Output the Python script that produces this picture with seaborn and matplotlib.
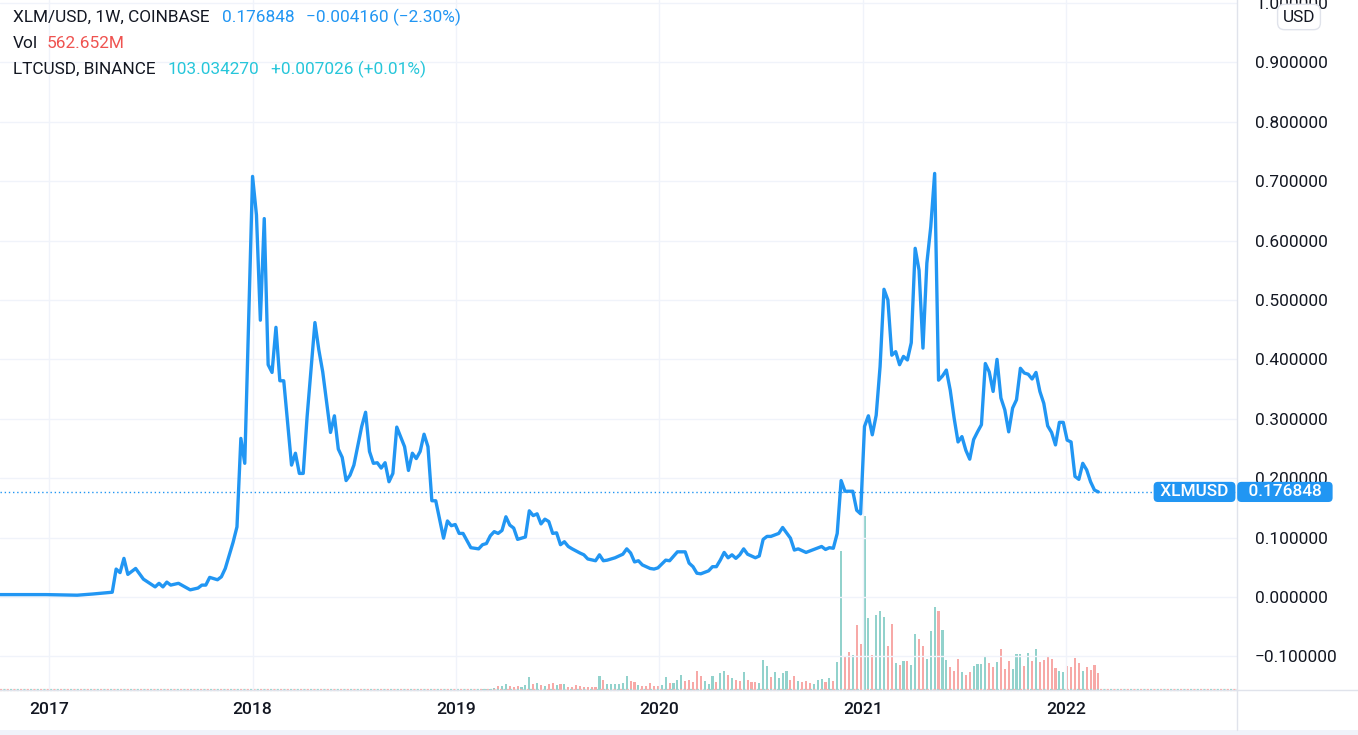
import numpy as np
import pandas as pd
import matplotlib
matplotlib.use("Agg")
import matplotlib.pyplot as plt
import matplotlib.transforms as mtransforms
from matplotlib.lines import Line2D
from matplotlib.patches import Rectangle
import seaborn as sns

# ---------------- data (weekly bars, week index counted from start_date) ----------------
start_date = "2016-10-03"

price_weeks = [
    0, 12, 20, 24, 29, 30, 31, 32, 33, 35,
    37, 40, 41, 42, 43, 44, 46, 49, 51, 52,
    53, 54, 56, 57, 58, 59, 60, 61, 62, 63,
    65, 66, 67, 68, 69, 70, 71, 72, 73, 75,
    76, 77, 78, 79, 81, 82, 83, 85, 86, 87,
    88, 89, 90, 91, 93, 94, 95, 96, 97, 98,
    99, 100, 101, 102, 104, 105, 106, 107, 108, 109,
    110, 111, 112, 114, 115, 116, 117, 118, 119, 121,
    123, 124, 125, 126, 127, 128, 129, 130, 131, 132,
    133, 135, 136, 137, 138, 139, 140, 141, 142, 143,
    144, 145, 146, 147, 149, 150, 151, 153, 154, 155,
    156, 158, 160, 161, 162, 163, 164, 165, 167, 168,
    169, 171, 172, 174, 176, 177, 178, 179, 180, 182,
    183, 184, 185, 186, 187, 188, 189, 190, 191, 192,
    194, 195, 196, 197, 198, 200, 201, 202, 203, 204,
    205, 207, 209, 211, 212, 213, 214, 215, 216, 217,
    219, 220, 221, 222, 223, 224, 225, 226, 227, 228,
    229, 230, 231, 232, 233, 234, 235, 236, 237, 238,
    239, 240, 241, 242, 243, 244, 245, 246, 247, 248,
    249, 250, 251, 252, 253, 254, 255, 256, 257, 258,
    259, 260, 261, 262, 263, 264, 265, 266, 267, 268,
    269, 270, 271, 272, 273, 274, 275, 276, 277, 278,
    279, 280, 281, 282,
]
price_values = [
    0.004, 0.004, 0.003, 0.005, 0.008, 0.047, 0.041, 0.065, 0.038, 0.048,
    0.030, 0.017, 0.023, 0.017, 0.025, 0.020, 0.023, 0.012, 0.015, 0.020,
    0.020, 0.033, 0.029, 0.034, 0.048, 0.070, 0.092, 0.118, 0.267, 0.225,
    0.708, 0.643, 0.466, 0.637, 0.391, 0.378, 0.454, 0.364, 0.364, 0.222,
    0.242, 0.208, 0.208, 0.304, 0.462, 0.416, 0.379, 0.277, 0.305, 0.249,
    0.235, 0.196, 0.205, 0.222, 0.287, 0.311, 0.245, 0.225, 0.226, 0.217,
    0.226, 0.194, 0.208, 0.286, 0.253, 0.213, 0.242, 0.233, 0.245, 0.274,
    0.253, 0.162, 0.162, 0.099, 0.128, 0.120, 0.122, 0.107, 0.107, 0.083,
    0.081, 0.088, 0.090, 0.103, 0.110, 0.107, 0.112, 0.135, 0.121, 0.116,
    0.097, 0.101, 0.145, 0.137, 0.140, 0.123, 0.131, 0.127, 0.107, 0.108,
    0.088, 0.093, 0.085, 0.081, 0.074, 0.071, 0.064, 0.061, 0.071, 0.061,
    0.062, 0.066, 0.072, 0.081, 0.074, 0.059, 0.061, 0.054, 0.048, 0.047,
    0.049, 0.062, 0.061, 0.076, 0.076, 0.057, 0.051, 0.040, 0.039, 0.044,
    0.051, 0.051, 0.062, 0.075, 0.066, 0.071, 0.065, 0.071, 0.081, 0.072,
    0.066, 0.069, 0.097, 0.102, 0.102, 0.107, 0.117, 0.108, 0.099, 0.079,
    0.081, 0.075, 0.080, 0.085, 0.080, 0.083, 0.082, 0.107, 0.196, 0.178,
    0.178, 0.146, 0.140, 0.287, 0.305, 0.273, 0.306, 0.388, 0.518, 0.500,
    0.407, 0.413, 0.391, 0.405, 0.399, 0.428, 0.587, 0.550, 0.419, 0.562,
    0.623, 0.713, 0.365, 0.372, 0.382, 0.348, 0.301, 0.261, 0.270, 0.247,
    0.232, 0.265, 0.278, 0.290, 0.393, 0.379, 0.346, 0.400, 0.335, 0.315,
    0.278, 0.318, 0.332, 0.385, 0.377, 0.375, 0.367, 0.378, 0.346, 0.326,
    0.288, 0.277, 0.256, 0.294, 0.294, 0.264, 0.261, 0.203, 0.198, 0.225,
    0.214, 0.194, 0.180, 0.176848,
]

# volume in millions, one bar per week from vol_first_week to the last week
vol_first_week = 124
vol_millions = [
    23, 23, 23,
    56, 132, 132, 199, 132, 109, 132, 109, 166, 430,
    199, 232, 166, 132, 209, 232, 175, 209, 209, 109,
    109, 166, 132, 109, 109, 109, 109, 463, 331, 199,
    199, 199, 199, 242, 463, 298, 265, 166, 132, 132,
    242, 132, 132, 166, 430, 242, 222, 331, 497, 298,
    331, 275, 629, 463, 298, 199, 463, 265, 553, 629,
    497, 397, 331, 298, 596, 331, 265, 265, 242, 993,
    794, 430, 596, 397, 563, 629, 331, 473, 298, 265,
    298, 242, 199, 331, 364, 265, 397, 298, 927, 4601,
    1125, 1248, 1159, 2152, 1523, 5759, 2383, 1159, 2483, 2615,
    2416, 1456, 2185, 894, 828, 960, 960, 828, 1854, 1688,
    1456, 1026, 1953, 2747, 2615, 1986, 993, 761, 629, 1026,
    596, 497, 596, 794, 861, 861, 1092, 894, 761, 927,
    1357, 695, 960, 695, 1192, 1192, 794, 1225, 960, 1357,
    927, 993, 1125, 1026, 728, 629, 596, 794, 761, 1059,
    894, 629, 761, 662, 828, 563,
]
# t = up week (teal), p = down week (red)
vol_direction = ("ttt"
                 "tpttpppttt" "ptptpptptp" "ppppppptpt" "tttttpptpp"
                 "pppttptttp" "pppptttptt" "ptpptppptt" "tpttttpptp"
                 "pptttptptt" "pptppttptt" "tpptptpttp" "ptttpttppp"
                 "tppttttppt" "ppptttptpt" "pppppttppp" "ptpppp")

year_ticks = [2017, 2018, 2019, 2020, 2021, 2022]
price_ticks = [-0.1, 0.0, 0.1, 0.2, 0.3, 0.4, 0.5, 0.6, 0.7, 0.8, 0.9, 1.0]

legend_rows = [
    [("XLM/USD, 1W, COINBASE", "#131722"), ("0.176848", "#2196F3"),
     ("\u22120.004160 (\u22122.30%)", "#2196F3")],
    [("Vol", "#131722"), ("562.652M", "#EF5350")],
    [("LTCUSD, BINANCE", "#131722"), ("103.034270", "#26C6DA"),
     ("+0.007026 (+0.01%)", "#26C6DA")],
]

# ---------------- style ----------------
sns.set_theme(style="white")
plt.rcParams['font.family'] = ['Roboto', 'DejaVu Sans']
plt.rcParams['axes.unicode_minus'] = True

BLUE = "#2196F3"
TEXT = "#131722"
GRID = "#f0f3fa"
BORDER = "#e0e3eb"
UP = "#92d2cc"
DOWN = "#f7a9a7"
FS = 12.4

W, H = 1358, 735
fig = plt.figure(figsize=(W / 100, H / 100), dpi=100)
fig.patch.set_facecolor("white")
rect = [0, 45 / H, 1237 / W, 690 / H]
ax_vol = fig.add_axes(rect)
ax = fig.add_axes(rect, sharex=ax_vol)
ax.patch.set_visible(False)

t0 = pd.Timestamp(start_date)
df = pd.DataFrame({
    "date": t0 + pd.to_timedelta(np.array(price_weeks) * 7, unit="D"),
    "price": price_values,
})
vol_weeks = vol_first_week + np.arange(len(vol_millions))
vdf = pd.DataFrame({
    "date": t0 + pd.to_timedelta(vol_weeks * 7, unit="D"),
    "vol": vol_millions,
    "dir": list(vol_direction),
})

# volume
ax_vol.bar(vdf["date"], vdf["vol"], width=3.8,
           color=[UP if d == "t" else DOWN for d in vdf["dir"]], linewidth=0)
ax_vol.axhline(0, color=DOWN, lw=1.6, ls=(0, (1, 2)), clip_on=False)
ax_vol.axhline(0, color=UP, lw=1.6, ls=(1.5, (1, 2)), clip_on=False)
ax_vol.set_ylim(0, 22840)
ax_vol.tick_params(left=False, bottom=False, labelleft=False, labelbottom=False)
for s in ax_vol.spines.values():
    s.set_visible(False)
ax_vol.grid(False)

# price line
sns.lineplot(data=df, x="date", y="price", ax=ax, color=BLUE, linewidth=2.4,
             zorder=5)
last = price_values[-1]
ax.axhline(last, color=BLUE, lw=1.0, ls=(0, (1, 2)), zorder=4)

ax.set_xlim(pd.Timestamp("2016-10-04 10:00"), pd.Timestamp("2022-11-04"))
ax.set_ylim(-0.1566, 1.005)
ax.set_xlabel("")
ax.set_ylabel("")

ax.set_yticks(price_ticks)
ax.set_yticklabels([f"{v:.6f}".replace("-", "\u2212") for v in price_ticks])
ax.yaxis.tick_right()
ax.tick_params(axis="y", length=0, pad=13, labelsize=FS, labelcolor=TEXT)

ax.set_xticks([pd.Timestamp(f"{y}-01-01") for y in year_ticks])
ax.set_xticklabels([str(y) for y in year_ticks], fontweight="medium")
ax.tick_params(axis="x", length=0, pad=9, labelsize=12.6, labelcolor=TEXT)

ax.grid(True, color=GRID, lw=1)
ax.set_axisbelow(True)
for k in ("top", "left"):
    ax.spines[k].set_visible(False)
for k in ("right", "bottom"):
    ax.spines[k].set_color(BORDER)
    ax.spines[k].set_linewidth(1)

# last price labels
blend = mtransforms.blended_transform_factory(ax.transAxes, ax.transData)
ax.annotate(" XLMUSD ", xy=(1, last), xycoords=blend, xytext=(-3, 0),
            textcoords="offset points", ha="right", va="center",
            color="white", fontsize=FS, fontweight="medium",
            annotation_clip=False, zorder=10,
            bbox=dict(boxstyle="round,pad=0.15,rounding_size=0.25",
                      fc=BLUE, ec="none"))
ax.annotate("  0.176848  ", xy=(1, last), xycoords=blend, xytext=(2, 0),
            textcoords="offset points", ha="left", va="center",
            color="white", fontsize=FS, fontweight="medium",
            annotation_clip=False, zorder=10,
            bbox=dict(boxstyle="round,pad=0.15,rounding_size=0.25",
                      fc=BLUE, ec="none"))

# USD box
fig.text(1299 / W, 1 - 17 / H, "USD", ha="center", va="center", color=TEXT,
         fontsize=FS, zorder=10,
         bbox=dict(boxstyle="round,pad=0.3,rounding_size=0.4", fc="white",
                   ec=BORDER, lw=1))

# frame decorations of the price / time scale areas
fig.add_artist(Line2D([1237 / W, 1237 / W], [5 / H, 45 / H], color=BORDER,
                      lw=1, transform=fig.transFigure))
fig.add_artist(Line2D([1237 / W, 1], [45 / H, 45 / H], color=BORDER,
                      lw=1, transform=fig.transFigure))
fig.add_artist(Rectangle((0, 0), 1, 5 / H, transform=fig.transFigure,
                         color=GRID, lw=0))

# legend rows (top-left)
renderer = fig.canvas.get_renderer()
row_y = [17, 43, 69]
for yy, parts in zip(row_y, legend_rows):
    x = 13
    for s, c in parts:
        t = fig.text(x / W, 1 - yy / H, s, color=c, fontsize=FS,
                     ha="left", va="center", zorder=10)
        bb = t.get_window_extent(renderer)
        x = bb.x1 + (9 if s == "Vol" else 12)

fig.savefig("out.png", dpi=100)
